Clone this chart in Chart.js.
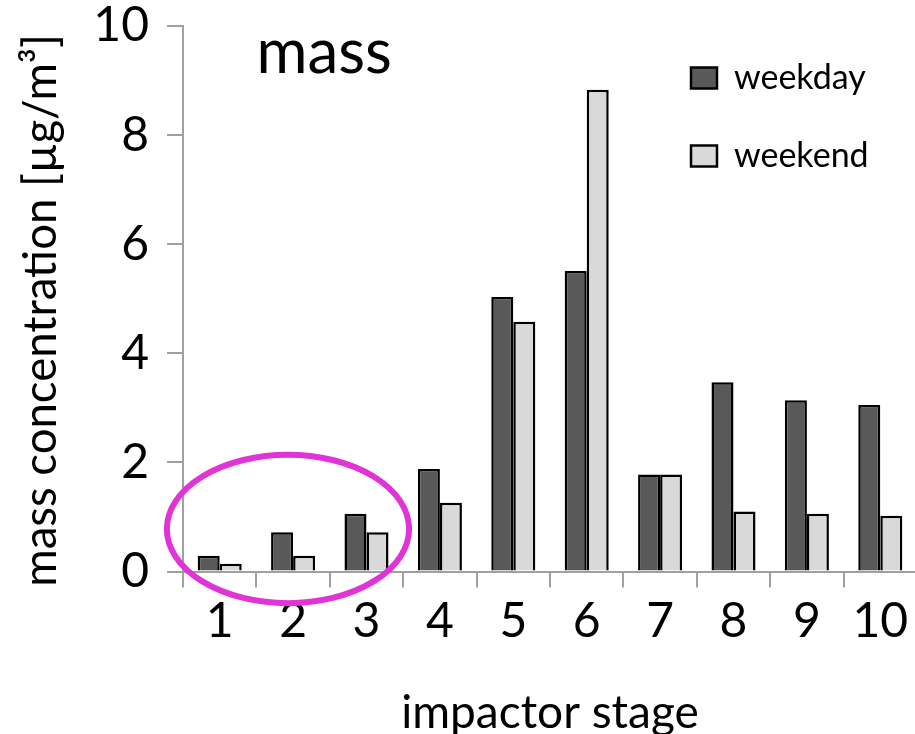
<!DOCTYPE html>
<html>
<head>
<meta charset="utf-8">
<script src="https://cdn.jsdelivr.net/npm/chart.js@4.4.1/dist/chart.umd.min.js"></script>
<style>
  html, body { margin: 0; padding: 0; background: #fff; overflow: hidden; }
  #wrap { width: 920px; height: 734px; }
</style>
</head>
<body>
<div id="wrap"><canvas id="chart" width="920" height="734"></canvas></div>
<script>
// values (µg/m³)
const stages = ['1', '2', '3', '4', '5', '6', '7', '8', '9', '10'];
const weekday = [0.29, 0.72, 1.06, 1.88, 5.03, 5.51, 1.78, 3.47, 3.14, 3.05];
const weekend = [0.14, 0.29, 0.72, 1.26, 4.58, 8.83, 1.78, 1.10, 1.06, 1.02];
const yTicks = [0, 2, 4, 6, 8, 10];
const panelTitle = 'mass';
const xTitle = 'impactor stage';
const yTitle = 'mass concentration [µg/m³]  ';

const FONT = 'Lato, "Open Sans", sans-serif';
const AXIS_GREY = '#a0a0a0';

// pins the legend to the top right of the plot area
const legendSpot = {
  id: 'legendSpot',
  afterLayout(chart) {
    const lg = chart.legend;
    const area = chart.chartArea;
    const pad = lg.options.labels.padding;
    lg.left = area.left + 508 - pad;
    lg.top = area.top - 9;
    lg.right = lg.left + lg.width;
    lg.bottom = lg.top + lg.height;
  }
};

// panel label + the magenta ring round stages 1-3
const extras = {
  id: 'extras',
  afterDatasetsDraw(chart) {
    const { ctx, chartArea } = chart;
    const xs = chart.scales.x, ys = chart.scales.y;
    const cw = xs.getPixelForValue(1) - xs.getPixelForValue(0);

    ctx.save();
    ctx.font = '62px ' + FONT;
    ctx.fillStyle = '#000';
    ctx.textBaseline = 'alphabetic';
    ctx.fillText(panelTitle, chartArea.left + cw, ys.getPixelForValue(9.14));

    const cx = (xs.getPixelForValue(0) + xs.getPixelForValue(2)) / 2 - 0.07 * cw;
    const cy = ys.getPixelForValue(0.78);
    const rx = 1.65 * cw;
    const ry = ys.getPixelForValue(0) - ys.getPixelForValue(1.36);
    ctx.beginPath();
    ctx.ellipse(cx, cy, rx, ry, 0, 0, Math.PI * 2);
    ctx.lineWidth = 6;
    ctx.strokeStyle = '#e034d6';
    ctx.stroke();
    ctx.restore();
  }
};

new Chart(document.getElementById('chart'), {
  type: 'bar',
  data: {
    labels: stages,
    datasets: [
      { label: 'weekday', data: weekday, backgroundColor: '#595959', borderColor: '#000', borderWidth: 2.5 },
      { label: 'weekend', data: weekend, backgroundColor: '#d9d9d9', borderColor: '#000', borderWidth: 2.5 }
    ]
  },
  options: {
    responsive: false,
    animation: false,
    layout: { padding: { top: 26, right: 3, left: 0, bottom: 0 } },
    datasets: { bar: { categoryPercentage: 0.6, barPercentage: 1.0 } },
    plugins: {
      tooltip: { enabled: false },
      legend: {
        position: 'chartArea',
        align: 'start',
        labels: {
          boxWidth: 26,
          boxHeight: 21,
          padding: 44,
          color: '#000',
          font: { family: FONT, size: 34 }
        }
      }
    },
    scales: {
      x: {
        afterFit(scale) { scale.height = 162.5; },
        grid: { drawOnChartArea: false, drawTicks: true, tickLength: 16, color: AXIS_GREY, lineWidth: 2, offset: true },
        border: { color: AXIS_GREY, width: 2 },
        ticks: { color: '#000', padding: 5, font: { family: FONT, size: 48 } },
        title: { display: true, text: xTitle, color: '#000', padding: { top: 0, bottom: 0 }, font: { family: FONT, size: 46, lineHeight: 0.9 } }
      },
      y: {
        min: 0,
        max: 10,
        afterFit(scale) {
          scale.width = 183;
          scale.paddingTop = 0;
          scale.paddingBottom = 0;
        },
        afterBuildTicks(scale) { scale.ticks = yTicks.map(v => ({ value: v })); },
        grid: { drawOnChartArea: false, drawTicks: true, tickLength: 16, color: AXIS_GREY, lineWidth: 2 },
        border: { color: AXIS_GREY, width: 2 },
        ticks: { color: '#000', padding: 18, font: { family: FONT, size: 48 } },
        title: { display: true, text: yTitle, color: '#000', padding: { top: 14, bottom: 0 }, font: { family: FONT, size: 45.5 } }
      }
    }
  },
  plugins: [legendSpot, extras]
});
</script>
</body>
</html>
